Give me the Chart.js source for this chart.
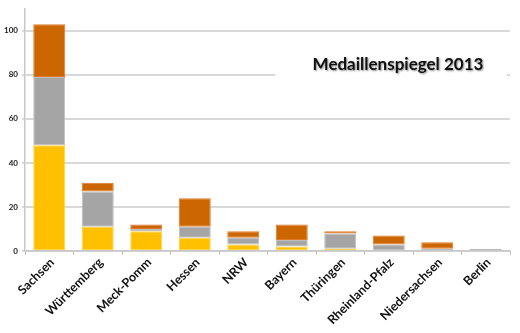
<!DOCTYPE html>
<html>
<head>
<meta charset="utf-8">
<script src="https://cdn.jsdelivr.net/npm/chart.js@4/dist/chart.umd.min.js"></script>
<style>
html,body{margin:0;padding:0;background:#fff;}
#wrap{position:relative;width:520px;height:333px;}
canvas{display:block;}
</style>
</head>
<body>
<div id="wrap"><canvas id="c" width="520" height="333"></canvas></div>
<script>
const chartTitle = "Medaillenspiegel 2013";
const categories = ["Sachsen","Württemberg","Meck-Pomm","Hessen","NRW","Bayern","Thüringen","Rheinland-Pfalz","Niedersachsen","Berlin"];
const gold   = [48, 11, 9, 6, 3, 2, 1, 0, 0, 0];
const silver = [31, 16, 1, 5, 3, 3, 7, 3, 1, 1];
const bronze = [24,  4, 2, 13, 3, 7, 1, 4, 3, 0];
const yTickValues = [0, 20, 40, 60, 80, 100];

const titlePlugin = {
  id: 'boxTitle',
  beforeDatasetsDraw(chart) {
    const ctx = chart.ctx;
    ctx.save();
    ctx.fillStyle = '#ffffff';
    ctx.fillRect(275, 55, 232, 24);
    ctx.font = 'bold 17px Lato, "Open Sans", sans-serif';
    ctx.fillStyle = '#111111';
    ctx.textAlign = 'center';
    ctx.textBaseline = 'alphabetic';
    ctx.shadowColor = 'rgba(0,0,0,0.45)';
    ctx.shadowBlur = 2;
    ctx.shadowOffsetX = 1;
    ctx.shadowOffsetY = 1;
    ctx.fillText(chartTitle, 398, 70);
    ctx.restore();
  }
};

new Chart(document.getElementById('c'), {
  type: 'bar',
  data: {
    labels: categories,
    datasets: [
      {label: 'Gold', data: gold, backgroundColor: '#FFC000', borderColor: '#FFD34D', borderWidth: 1, borderSkipped: false},
      {label: 'Silber', data: silver, backgroundColor: '#A5A5A5', borderColor: '#BDBDBD', borderWidth: 1, borderSkipped: false},
      {label: 'Bronze', data: bronze, backgroundColor: '#CC6600', borderColor: '#E07A2A', borderWidth: 1, borderSkipped: false}
    ]
  },
  options: {
    responsive: false,
    animation: false,
    layout: {padding: {top: 3, right: 10, left: 0, bottom: 0}},
    plugins: {legend: {display: false}, title: {display: false}, tooltip: {enabled: false}},
    datasets: {bar: {categoryPercentage: 1.0, barPercentage: 0.66}},
    scales: {
      x: {
        stacked: true,
        grid: {display: true, drawOnChartArea: false, drawTicks: true, tickLength: 4, color: '#bfbfbf', lineWidth: 1},
        border: {display: true, color: '#c8c8c8', width: 1.5},
        ticks: {
          minRotation: 45, maxRotation: 45, autoSkip: false, padding: 0, labelOffset: 3,
          color: '#111111',
          font: {family: 'Lato, "Open Sans", sans-serif', size: 12.5, weight: 'bold'}
        },
        afterFit(scale) { scale.height = 82; }
      },
      y: {
        stacked: true,
        min: 0, max: 110,
        ticks: {
          stepSize: 20, padding: 4,
          color: '#1a1a1a',
          font: {family: 'Lato, "Open Sans", sans-serif', size: 8, weight: 'bold'}
        },
        afterBuildTicks(scale) {
          scale.ticks = yTickValues.map(v => ({value: v}));
        },
        grid: {color: '#d9d9d9', lineWidth: 2, drawTicks: true, tickLength: 3},
        border: {display: true, color: '#c8c8c8', width: 1.5},
        afterFit(scale) { scale.width = 25; }
      }
    }
  },
  plugins: [titlePlugin]
});
</script>
</body>
</html>
